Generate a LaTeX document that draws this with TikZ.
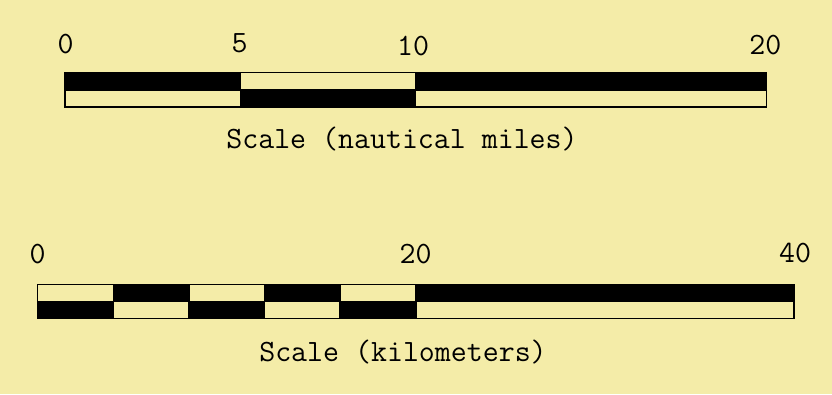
\documentclass[tikz,border=0pt]{standalone}
\definecolor{bg}{RGB}{244,236,168}
\tikzset{
  lbl/.style={font=\fontsize{31}{36}\selectfont\ttfamily, anchor=base, inner sep=0pt},
  blk/.style={fill=black},
  barline/.style={draw=black, line width=1.5pt}
}
\begin{document}
\begin{tikzpicture}[x=1pt,y=-1pt]
\fill[bg] (0,0) rectangle (832,394);
\useasboundingbox (0,0) rectangle (832,394);
% ---------- nautical miles bar ----------
\fill[blk] (65,72.5) rectangle (240.7,89.8);
\fill[blk] (240.7,89.8) rectangle (415.7,107);
\fill[blk] (415.7,72.5) rectangle (766.5,89.8);
\draw[barline] (65,72.5) rectangle (766.5,107);
\draw[barline] (65,89.8) -- (766.5,89.8);
\draw[barline] (240.7,72.5) -- (240.7,107);
\draw[barline] (415.7,72.5) -- (415.7,107);
\node[lbl] (n0) at (65.5,53) {0};
\node[lbl] (n5) at (239.5,52) {5};
\node[lbl] (n10) at (413,55) {10};
\node[lbl] (n20) at (765.3,54) {20};
\node[lbl] (ntitle) at (402,148) {Scale (nautical miles)};
% ---------- kilometers bar ----------
\fill[blk] (37.7,301.5) rectangle (113.3,318.7);
\fill[blk] (113.3,284.3) rectangle (189,301.5);
\fill[blk] (189,301.5) rectangle (264.6,318.7);
\fill[blk] (264.6,284.3) rectangle (340.2,301.5);
\fill[blk] (340.2,301.5) rectangle (415.8,318.7);
\fill[blk] (415.8,284.3) rectangle (794,301.5);
\draw[barline] (37.7,284.3) rectangle (794,318.7);
\draw[barline] (37.7,301.5) -- (794,301.5);
\foreach \x in {113.3,189,264.6,340.2,415.8}
  \draw[barline] (\x,284.3) -- (\x,318.7);
\node[lbl] (k0) at (37.5,263) {0};
\node[lbl] (k20) at (415.5,263) {20};
\node[lbl] (k40) at (795,262) {40};
\node[lbl] (ktitle) at (403,361.5) {Scale (kilometers)};
\end{tikzpicture}
\end{document}
